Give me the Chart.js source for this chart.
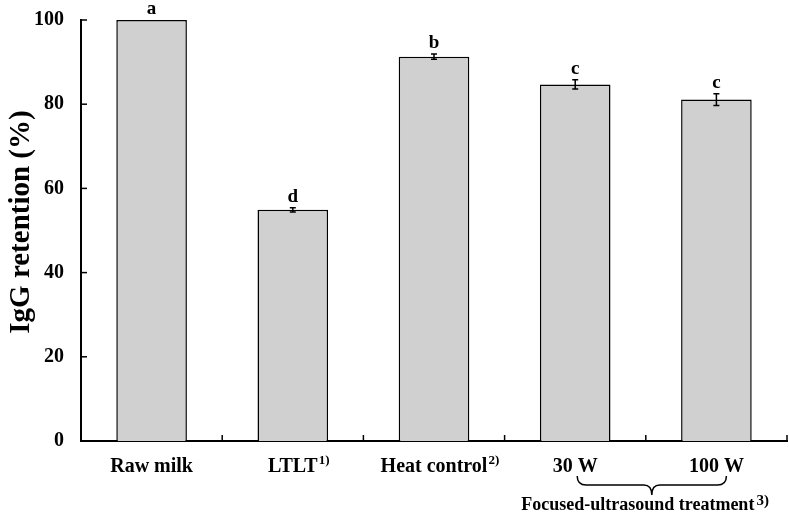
<!DOCTYPE html>
<html>
<head>
<meta charset="utf-8">
<script src="https://cdn.jsdelivr.net/npm/chart.js@4.4.1/dist/chart.umd.min.js"></script>
<style>
  html, body { margin: 0; background: #fff; }
  #wrap { width: 789px; height: 516px; }
</style>
</head>
<body>
<div id="wrap"><canvas id="igg"></canvas></div>
<script>
const categories = ['Raw milk', 'LTLT', 'Heat control', '30 W', '100 W'];
const notes = ['', '1)', '2)', '', ''];
const retention = [100, 54.9, 91.3, 84.7, 81.1];
const errors = [0, 0.5, 0.6, 1.1, 1.4];
const letters = ['a', 'd', 'b', 'c', 'c'];
const yTicks = [0, 20, 40, 60, 80, 100];
const yTitle = 'IgG retention (%)';
const groupLabel = 'Focused-ultrasound treatment';
const groupNote = '3)';
const groupFrom = 3;
const groupTo = 4;

const SERIF = "'Liberation Serif', 'Times New Roman', serif";

const extras = {
  id: 'extras',
  afterDatasetsDraw(chart) {
    const { ctx, chartArea, scales } = chart;
    const x = scales.x;
    const y = scales.y;
    ctx.save();
    ctx.strokeStyle = '#000';
    ctx.fillStyle = '#000';

    // inward ticks
    ctx.lineWidth = 1.5;
    yTicks.forEach((v) => {
      const py = y.getPixelForValue(v);
      ctx.beginPath();
      ctx.moveTo(chartArea.left, py);
      ctx.lineTo(chartArea.left + 6, py);
      ctx.stroke();
    });
    for (let i = 1; i <= categories.length; i++) {
      const px = x.getPixelForValue(i - 0.5);
      ctx.beginPath();
      ctx.moveTo(px, chartArea.bottom);
      ctx.lineTo(px, chartArea.bottom - 6);
      ctx.stroke();
    }

    // error bars and letters
    retention.forEach((v, i) => {
      const px = x.getPixelForValue(i);
      const top = y.getPixelForValue(v + errors[i]);
      const bot = y.getPixelForValue(v - errors[i]);
      if (errors[i] > 0) {
        ctx.lineWidth = 1.5;
        ctx.beginPath();
        ctx.moveTo(px, top); ctx.lineTo(px, bot);
        ctx.moveTo(px - 3, top); ctx.lineTo(px + 3, top);
        ctx.moveTo(px - 3, bot); ctx.lineTo(px + 3, bot);
        ctx.stroke();
      }
      ctx.font = 'bold 19px ' + SERIF;
      ctx.textAlign = 'center';
      ctx.textBaseline = 'alphabetic';
      ctx.fillText(letters[i], px, top - 6);
    });

    // category labels with superscript notes
    categories.forEach((c, i) => {
      const px = x.getPixelForValue(i);
      ctx.font = 'bold 20px ' + SERIF;
      ctx.textAlign = 'center';
      ctx.fillText(c, px, 472);
      if (notes[i]) {
        const w = ctx.measureText(c).width;
        ctx.font = 'bold 13px ' + SERIF;
        ctx.textAlign = 'left';
        ctx.fillText(notes[i], px + w / 2 + 1, 464);
      }
    });

    // brace under the grouped categories
    const left = x.getPixelForValue(groupFrom) + 2;
    const right = x.getPixelForValue(groupTo) + 10;
    const cx = (left + right) / 2;
    const t = 476, m = 485, tip = 495;
    ctx.lineWidth = 1.5;
    ctx.beginPath();
    ctx.moveTo(left, t);
    ctx.quadraticCurveTo(left, m, left + 9, m);
    ctx.lineTo(cx - 8, m);
    ctx.quadraticCurveTo(cx, m, cx, tip);
    ctx.quadraticCurveTo(cx, m, cx + 8, m);
    ctx.lineTo(right - 9, m);
    ctx.quadraticCurveTo(right, m, right, t);
    ctx.stroke();

    ctx.font = 'bold 18px ' + SERIF;
    const gw = ctx.measureText(groupLabel).width;
    ctx.textAlign = 'left';
    const gx = cx - (gw + 28) / 2;
    ctx.fillText(groupLabel, gx, 510);
    ctx.font = 'bold 15px ' + SERIF;
    ctx.fillText(groupNote, gx + gw + 2, 505);

    // y axis title
    ctx.translate(22, 222);
    ctx.rotate(-Math.PI / 2);
    ctx.font = 'bold 29px ' + SERIF;
    ctx.textAlign = 'center';
    ctx.textBaseline = 'middle';
    ctx.fillText(yTitle, 0, 0);

    ctx.restore();
  }
};

new Chart(document.getElementById('igg'), {
  type: 'bar',
  data: {
    labels: categories,
    datasets: [{
      data: retention,
      backgroundColor: '#d0d0d0',
      borderColor: '#000',
      borderWidth: 1.5,
      borderSkipped: 'bottom',
      categoryPercentage: 1,
      barPercentage: 0.5
    }]
  },
  options: {
    responsive: true,
    maintainAspectRatio: false,
    animation: false,
    layout: { padding: { top: 20, right: 2, left: 0, bottom: 0 } },
    scales: {
      x: {
        offset: true,
        grid: { display: false, drawTicks: false },
        border: { display: true, color: '#000', width: 2 },
        ticks: { display: false },
        afterFit: (scale) => {
          scale.height = 75;
          scale.paddingLeft = 0;
          scale.paddingRight = 0;
        }
      },
      y: {
        min: 0,
        max: 100,
        afterBuildTicks: (scale) => { scale.ticks = yTicks.map((v) => ({ value: v })); },
        grid: { display: false, drawTicks: false },
        border: { display: true, color: '#000', width: 2 },
        ticks: {
          color: '#000',
          padding: 17,
          font: { family: SERIF, size: 20, weight: 'bold' }
        },
        afterFit: (scale) => {
          scale.width = 81;
          scale.paddingTop = 0;
          scale.paddingBottom = 0;
        }
      }
    },
    plugins: {
      legend: { display: false },
      tooltip: { enabled: false }
    }
  },
  plugins: [extras]
});
</script>
</body>
</html>
